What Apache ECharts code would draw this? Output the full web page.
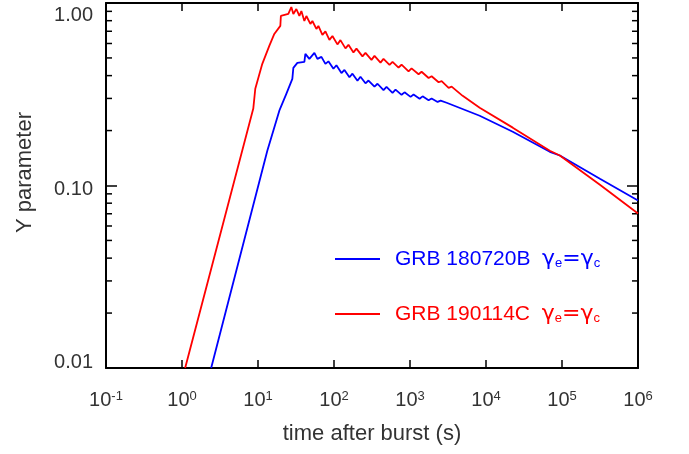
<!DOCTYPE html>
<html>
<head>
<meta charset="utf-8">
<script src="https://cdn.jsdelivr.net/npm/echarts@6/dist/echarts.min.js"></script>
<style>
  html, body { margin: 0; padding: 0; background: #fff; }
  #chart { width: 689px; height: 454px; }
</style>
</head>
<body>
<div id="chart"></div>
<script>
// GRB 180720B (blue)
const blueT = [2.42, 13.26, 19.08, 23.59, 28.30, 29.18, 32.95, 40.75, 42.0, 47.4, 55.2, 60.5, 68.3, 77.1, 84.4, 98.3,
  107.6, 125.3, 137.2, 159.7, 174.9, 203.6, 223.0, 259.5, 284.3, 341.1, 373.6, 448.2, 491.0, 589.1, 645.1, 774.2,
  847.7, 1017, 1114, 1337, 1464, 1757, 1924, 2308, 2529, 3034, 8257, 22490, 69140, 93650, 315300, 1000000];
const blueY = [0.010, 0.155, 0.257, 0.318, 0.384, 0.441, 0.470, 0.476, 0.526, 0.494, 0.533, 0.494, 0.507, 0.464, 0.479, 0.436,
  0.456, 0.413, 0.430, 0.392, 0.410, 0.375, 0.394, 0.363, 0.376, 0.348, 0.361, 0.333, 0.347, 0.322, 0.335, 0.314,
  0.324, 0.306, 0.315, 0.299, 0.308, 0.293, 0.300, 0.287, 0.292, 0.284, 0.241, 0.197, 0.153, 0.146, 0.109, 0.0828];

// GRB 190114C (red)
const redT = [1.10, 8.67, 9.21, 11.39, 14.08, 16.39, 19.67, 20.0, 25.07, 27.46, 29.18, 31.97, 35.02, 37.20, 40.75, 43.29,
  48.89, 51.94, 58.66, 62.32, 70.38, 77.09, 87.03, 95.33, 110.9, 121.5, 141.5, 155.0, 180.3, 197.5, 236.9, 259.5,
  311.4, 341.1, 409.2, 448.2, 537.8, 589.1, 706.8, 774.2, 957.2, 1048, 1297, 1420, 1757, 1924, 2380, 2606,
  3224, 3531, 4931, 8257, 22490, 69140, 93650, 315300, 1000000];
const redY = [0.010, 0.264, 0.339, 0.464, 0.582, 0.677, 0.749, 0.849, 0.871, 0.951, 0.871, 0.927, 0.849, 0.904, 0.797, 0.849,
  0.768, 0.797, 0.721, 0.749, 0.668, 0.699, 0.628, 0.660, 0.593, 0.626, 0.564, 0.590, 0.536, 0.562, 0.510, 0.533,
  0.488, 0.513, 0.471, 0.494, 0.458, 0.476, 0.443, 0.459, 0.422, 0.438, 0.407, 0.420, 0.388, 0.397, 0.368, 0.373,
  0.343, 0.348, 0.310, 0.267, 0.2075, 0.155, 0.146, 0.101, 0.0703];

const seriesNames = ['GRB 180720B', 'GRB 190114C'];
const seriesColors = ['#0000ff', '#ff0000'];

const xMin = 0.1, xMax = 1e6;
const yMin = 0.01, yMax = 1;
// minor ticks of the log y axis
const yMinorTicks = [0.02, 0.03, 0.04, 0.05, 0.06, 0.07, 0.08, 0.09,
  0.2, 0.3, 0.4, 0.5, 0.6, 0.7, 0.8, 0.9];

const font = "'Liberation Sans', Arial, sans-serif";
const txt = '#333';

const chart = echarts.init(document.getElementById('chart'));

function pairs(xs, ys) {
  return xs.map((x, i) => [x, ys[i]]);
}

const xBase = {
  type: 'log', logBase: 10, min: xMin, max: xMax,
  axisLine: { show: true, onZero: false, lineStyle: { color: '#000', width: 2 } },
  axisTick: { show: true, inside: true, length: 8, lineStyle: { color: '#000', width: 1.5 } },
  splitLine: { show: false }
};
const yBase = {
  type: 'log', logBase: 10, min: yMin, max: yMax,
  axisLine: { show: true, onZero: false, lineStyle: { color: '#000', width: 2 } },
  axisTick: { show: true, inside: true, length: 11, lineStyle: { color: '#000', width: 1.5 } },
  splitLine: { show: false }
};

const option = {
  animation: false,
  backgroundColor: '#fff',
  grid: { left: 106, right: 51, top: 3, bottom: 86 },
  xAxis: [
    Object.assign({}, xBase, {
      position: 'bottom',
      name: 'time after burst (s)',
      nameLocation: 'middle',
      nameGap: 55,
      nameTextStyle: { fontSize: 22, color: txt, fontFamily: font },
      axisLabel: {
        margin: 22,
        color: txt,
        fontFamily: font,
        formatter: v => '{b|10}{sup|' + Math.round(Math.log10(v)) + '}',
        rich: {
          b: { fontSize: 20, fontFamily: font, color: txt },
          sup: { fontSize: 13, fontFamily: font, color: txt, verticalAlign: 'top', lineHeight: 13 }
        }
      }
    }),
    Object.assign({}, xBase, { position: 'top', axisLabel: { show: false } })
  ],
  yAxis: [
    Object.assign({}, yBase, {
      position: 'left',
      name: 'Y parameter',
      nameLocation: 'middle',
      nameGap: 70,
      nameTextStyle: { fontSize: 22, color: txt, fontFamily: font, padding: [0, 0, 0, 26] },
      axisLabel: {
        margin: 13,
        color: txt,
        fontFamily: font,
        formatter: v => {
          const s = v.toFixed(2);
          if (v >= yMax * 0.99) return '{t|' + s + '}';
          if (v <= yMin * 1.01) return '{b|' + s + '}';
          return '{m|' + s + '}';
        },
        rich: {
          t: { fontSize: 20, fontFamily: font, color: txt, padding: [24, 0, 0, 0] },
          m: { fontSize: 20, fontFamily: font, color: txt, padding: [8, 0, 0, 0] },
          b: { fontSize: 20, fontFamily: font, color: txt, padding: [0, 0, 12, 0] }
        }
      }
    }),
    Object.assign({}, yBase, { position: 'right', axisLabel: { show: false } })
  ],
  legend: {
    orient: 'vertical',
    left: 335,
    top: 248,
    padding: 0,
    itemWidth: 45,
    itemHeight: 2,
    itemGap: 33,
    icon: 'rect',
    selectedMode: false,
    data: seriesNames.map((n, i) => ({ name: n, textStyle: { color: seriesColors[i] } })),
    formatter: n => n + '  {g|\u03b3}{s|e}{g|=\u03b3}{s|c}',
    textStyle: {
      fontSize: 21,
      fontFamily: font,
      padding: [0, 0, 0, 10],
      rich: {
        g: { fontSize: 22, fontFamily: "'DejaVu Sans', sans-serif" },
        s: { fontSize: 13, fontFamily: font, verticalAlign: 'bottom' }
      }
    }
  },
  series: [
    {
      name: seriesNames[0], type: 'line', xAxisIndex: 0, yAxisIndex: 0,
      data: pairs(blueT, blueY), showSymbol: false, clip: true,
      lineStyle: { color: seriesColors[0], width: 1.8 }, itemStyle: { color: seriesColors[0] }
    },
    {
      name: seriesNames[1], type: 'line', xAxisIndex: 0, yAxisIndex: 0,
      data: pairs(redT, redY), showSymbol: false, clip: true,
      lineStyle: { color: seriesColors[1], width: 1.8 }, itemStyle: { color: seriesColors[1] }
    }
  ]
};

chart.setOption(option);

// log minor ticks on left and right y axes, placed through the axis scale
const xl = chart.convertToPixel({ xAxisIndex: 0 }, xMin);
const xr = chart.convertToPixel({ xAxisIndex: 0 }, xMax);
const minorEls = [];
yMinorTicks.forEach(v => {
  const y = chart.convertToPixel({ yAxisIndex: 0 }, v);
  minorEls.push({ type: 'line', shape: { x1: xl, y1: y, x2: xl + 6, y2: y }, style: { stroke: '#000', lineWidth: 1.5 } });
  minorEls.push({ type: 'line', shape: { x1: xr - 6, y1: y, x2: xr, y2: y }, style: { stroke: '#000', lineWidth: 1.5 } });
});
chart.setOption({ graphic: minorEls });
</script>
</body>
</html>
